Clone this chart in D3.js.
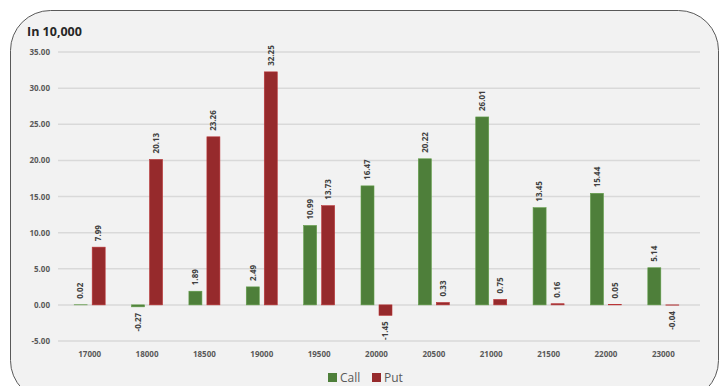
<!DOCTYPE html>
<html>
<head>
<meta charset="utf-8">
<script src="https://cdn.jsdelivr.net/npm/d3@7/dist/d3.min.js"></script>
<style>
  html, body { margin: 0; padding: 0; background: #ffffff; }
  svg { display: block; }
</style>
</head>
<body>
<div id="chart"></div>
<script>
// Option open interest by strike (in 10,000)
const strikes = ["17000", "18000", "18500", "19000", "19500", "20000", "20500", "21000", "21500", "22000", "23000"];
const callValues = [0.02, -0.27, 1.89, 2.49, 10.99, 16.47, 20.22, 26.01, 13.45, 15.44, 5.14];
const putValues = [7.99, 20.13, 23.26, 32.25, 13.73, -1.45, 0.33, 0.75, 0.16, 0.05, -0.04];
const yTicks = [-5, 0, 5, 10, 15, 20, 25, 30, 35];
const seriesNames = ["Call", "Put"];
const seriesColors = ["#4e7f3a", "#962a2c"];

const W = 728, H = 386;
const svg = d3.select("#chart").append("svg").attr("width", W).attr("height", H);

// two-decimal format with a plain hyphen for negatives
const fmt = v => d3.format(".2f")(v).replace("\u2212", "-");

// card background with rounded corners
svg.append("rect")
  .attr("x", 10.5).attr("y", 10.5)
  .attr("width", 708).attr("height", 390)
  .attr("rx", 40).attr("ry", 40)
  .attr("fill", "#f2f2f2")
  .attr("stroke", "#595959").attr("stroke-width", 1);

const plot = { left: 61, right: 692, top: 52, bottom: 341 };

const x = d3.scaleBand().domain(strikes).range([plot.left, plot.right]).padding(0);
const y = d3.scaleLinear().domain([-5, 35]).range([plot.bottom, plot.top]);

const barW = 13, gap = 5;
const sub = d3.scaleOrdinal().domain(seriesNames)
  .range([-(gap / 2 + barW), gap / 2]);

// gridlines
svg.append("g")
  .selectAll("line").data(yTicks).join("line")
  .attr("x1", 58).attr("x2", 700)
  .attr("y1", d => y(d)).attr("y2", d => y(d))
  .attr("stroke", "#d9d9d9").attr("stroke-width", 1.5);

// y axis labels
const yAxis = d3.axisLeft(y).tickValues(yTicks).tickFormat(fmt).tickSize(0).tickPadding(0);
const yg = svg.append("g").attr("transform", "translate(50,0)").call(yAxis);
yg.select(".domain").remove();
yg.selectAll("text")
  .attr("font-family", "Open Sans, sans-serif").attr("font-size", 8).attr("font-weight", 700)
  .attr("fill", "#595959");

// x axis labels
const xAxis = d3.axisBottom(x).tickSize(0).tickPadding(0);
const xg = svg.append("g").attr("transform", "translate(0,351)").call(xAxis);
xg.select(".domain").remove();
xg.selectAll("text")
  .attr("font-family", "Open Sans, sans-serif").attr("font-size", 8).attr("font-weight", 700)
  .attr("fill", "#595959");

const rows = strikes.map((s, i) => ({ strike: s, values: [callValues[i], putValues[i]] }));

const groups = svg.append("g").selectAll("g").data(rows).join("g")
  .attr("transform", d => `translate(${x(d.strike) + x.bandwidth() / 2},0)`);

const items = groups.selectAll("g").data(d => d.values.map((v, j) => ({ name: seriesNames[j], v, j }))).join("g");

items.append("rect")
  .attr("x", d => sub(d.name))
  .attr("width", barW)
  .attr("y", d => y(Math.max(0, d.v)))
  .attr("height", d => Math.abs(y(d.v) - y(0)))
  .attr("fill", d => seriesColors[d.j])
  .attr("stroke", d => d3.color(seriesColors[d.j]).brighter(0.6))
  .attr("stroke-width", 0.6);

// rotated value labels
items.append("text")
  .attr("transform", d => {
    const cx = sub(d.name) + barW / 2;
    const yy = d.v >= 0 ? y(d.v) - 6 : y(d.v) + 6;
    return `translate(${cx},${yy}) rotate(-90)`;
  })
  .attr("text-anchor", d => d.v >= 0 ? "start" : "end")
  .attr("dy", "0.35em")
  .attr("font-family", "Open Sans, sans-serif").attr("font-size", 8).attr("font-weight", 700)
  .attr("fill", "#404040")
  .text(d => fmt(d.v));

// title
svg.append("text")
  .attr("x", 27).attr("y", 36)
  .attr("font-family", "Open Sans, sans-serif").attr("font-size", 12.5).attr("font-weight", 700)
  .attr("fill", "#262626")
  .text("In 10,000");

// legend
const legend = svg.append("g").attr("transform", "translate(328,373)");
const li = legend.selectAll("g").data(seriesNames).join("g")
  .attr("transform", (d, i) => `translate(${i * 44},0)`);
li.append("rect").attr("width", 9).attr("height", 9).attr("fill", (d, i) => seriesColors[i]);
li.append("text").attr("x", 12).attr("y", 9)
  .attr("font-family", "Open Sans, sans-serif").attr("font-size", 12)
  .attr("fill", "#595959").text(d => d);
</script>
</body>
</html>
